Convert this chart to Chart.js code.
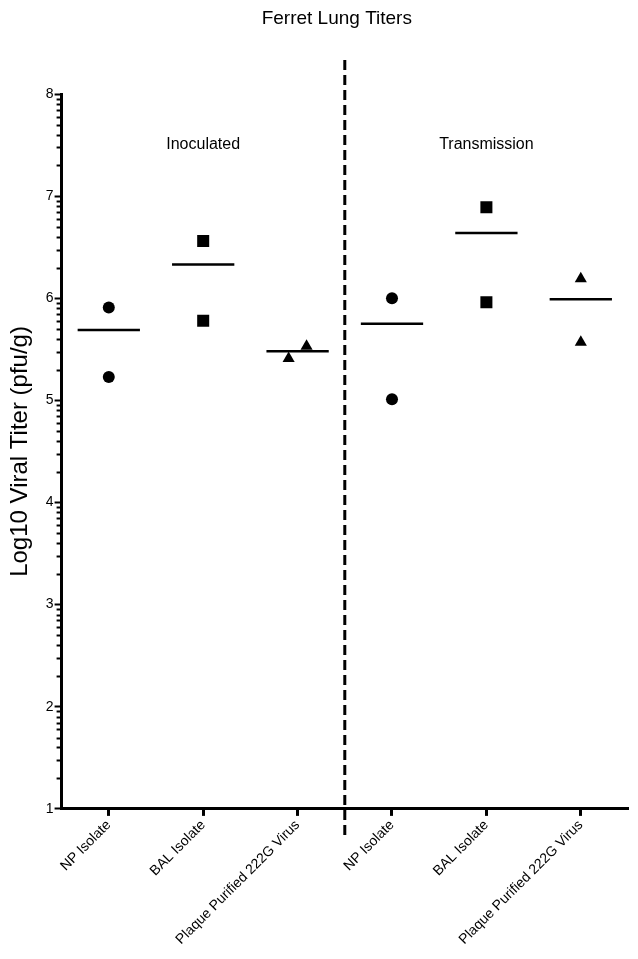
<!DOCTYPE html>
<html lang="en">
<head>
    <meta charset="UTF-8">
    <title>Ferret Lung Titers</title>
    <script src="https://cdn.jsdelivr.net/npm/chart.js"></script>
    <style>
        body { margin: 0; background: #fff; }
        #wrap { width: 638px; height: 959px; }
    </style>
</head>
<body>
    <div id="wrap"><canvas id="titerChart" width="638" height="959"></canvas></div>

    <script>
        // data
        const chartTitle = 'Ferret Lung Titers';
        const categories = ['NP Isolate', 'BAL Isolate', 'Plaque Purified 222G Virus',
                            'NP Isolate', 'BAL Isolate', 'Plaque Purified 222G Virus'];
        const groupLabels = ['Inoculated', 'Transmission'];
        const groupCenters = [2, 5];

        const circleX = [1, 1, 4, 4];
        const circleY = [5.91, 5.23, 6.00, 5.01];
        const squareX = [2, 2, 5, 5];
        const squareY = [6.56, 5.78, 6.89, 5.96];
        const triangleX = [2.905, 3.095, 6, 6];
        const triangleY = [5.41, 5.53, 6.19, 5.57];
        const meanY = [5.69, 6.33, 5.48, 5.75, 6.64, 5.99];

        const FONT = "'Liberation Sans', Arial, sans-serif";

        const toPoints = (xs, ys) => xs.map((x, i) => ({ x: x, y: ys[i] }));

        // short horizontal bars for the group means, broken by nulls
        const meanLines = [];
        meanY.forEach((m, i) => {
            meanLines.push({ x: i + 1 - 0.33, y: m });
            meanLines.push({ x: i + 1 + 0.33, y: m });
            meanLines.push({ x: i + 1.4, y: null });
        });

        // title, divider, group titles and the log-style minor ticks on the y axis
        const extras = {
            id: 'extras',
            afterDraw(chart) {
                const ctx = chart.ctx;
                const xs = chart.scales.x, ys = chart.scales.y;
                const area = chart.chartArea;
                ctx.save();

                // minor ticks
                ctx.strokeStyle = '#000';
                ctx.lineWidth = 2;
                for (let d = 1; d < 8; d++) {
                    for (let k = 2; k <= 9; k++) {
                        const py = Math.round(ys.getPixelForValue(d + Math.log10(k))) + 0.5;
                        ctx.beginPath();
                        ctx.moveTo(ys.right - 5, py);
                        ctx.lineTo(ys.right, py);
                        ctx.stroke();
                    }
                }

                // dashed divider between the two groups
                const dx = xs.getPixelForValue(3.5);
                ctx.setLineDash([10, 5]);
                ctx.lineWidth = 3;
                ctx.beginPath();
                ctx.moveTo(dx, area.top - 34);
                ctx.lineTo(dx, area.bottom + 27);
                ctx.stroke();
                ctx.setLineDash([]);

                ctx.fillStyle = '#000';
                ctx.textAlign = 'center';
                ctx.textBaseline = 'middle';

                // chart title
                ctx.font = '19px ' + FONT;
                ctx.fillText(chartTitle, (area.left + area.right) / 2 - 8, 19);

                // group titles
                ctx.font = '16px ' + FONT;
                groupLabels.forEach((g, i) => {
                    ctx.fillText(g, xs.getPixelForValue(groupCenters[i]), ys.getPixelForValue(7.5));
                });
                ctx.restore();
            }
        };

        const ctx = document.getElementById('titerChart').getContext('2d');
        const titerChart = new Chart(ctx, {
            type: 'scatter',
            data: {
                datasets: [
                    {
                        label: 'Means',
                        type: 'line',
                        data: meanLines,
                        borderColor: '#000',
                        borderWidth: 2.5,
                        pointRadius: 0,
                        spanGaps: false,
                        fill: false
                    },
                    {
                        label: 'NP Isolate',
                        data: toPoints(circleX, circleY),
                        pointStyle: 'circle',
                        pointRadius: 6,
                        backgroundColor: '#000',
                        borderColor: '#000',
                        borderWidth: 0
                    },
                    {
                        label: 'BAL Isolate',
                        data: toPoints(squareX, squareY),
                        pointStyle: 'rect',
                        pointRadius: 8.5,
                        backgroundColor: '#000',
                        borderColor: '#000',
                        borderWidth: 0
                    },
                    {
                        label: 'Plaque Purified 222G Virus',
                        data: toPoints(triangleX, triangleY),
                        pointStyle: 'triangle',
                        pointRadius: 7,
                        backgroundColor: '#000',
                        borderColor: '#000',
                        borderWidth: 0
                    }
                ]
            },
            options: {
                responsive: false,
                animation: false,
                layout: { padding: { left: 6, right: 10, top: 94, bottom: 10 } },
                plugins: {
                    legend: { display: false },
                    tooltip: { enabled: false },
                    title: { display: false }
                },
                scales: {
                    x: {
                        type: 'linear',
                        min: 0.5,
                        max: 6.5,
                        afterBuildTicks: (scale) => {
                            scale.ticks = categories.map((c, i) => ({ value: i + 1 }));
                        },
                        border: { display: true, color: '#000', width: 3 },
                        grid: { drawOnChartArea: false, tickLength: 7, tickWidth: 3, tickColor: '#000' },
                        ticks: {
                            autoSkip: false,
                            minRotation: 45,
                            maxRotation: 45,
                            color: '#000',
                            padding: 1,
                            font: { family: FONT, size: 14 },
                            callback: (v) => categories[Math.round(v) - 1]
                        }
                    },
                    y: {
                        min: 1,
                        max: 8,
                        afterBuildTicks: (scale) => {
                            scale.ticks = [1, 2, 3, 4, 5, 6, 7, 8].map(v => ({ value: v }));
                        },
                        border: { display: true, color: '#000', width: 3 },
                        grid: { drawOnChartArea: false, tickLength: 7, tickWidth: 2, tickColor: '#000' },
                        ticks: {
                            color: '#000',
                            padding: 1,
                            font: { family: FONT, size: 14 }
                        },
                        title: {
                            display: true,
                            text: 'Log10 Viral Titer (pfu/g)',
                            color: '#000',
                            font: { family: FONT, size: 24 },
                            padding: { top: 0, bottom: 10 }
                        }
                    }
                }
            },
            plugins: [extras]
        });
    </script>
</body>
</html>
